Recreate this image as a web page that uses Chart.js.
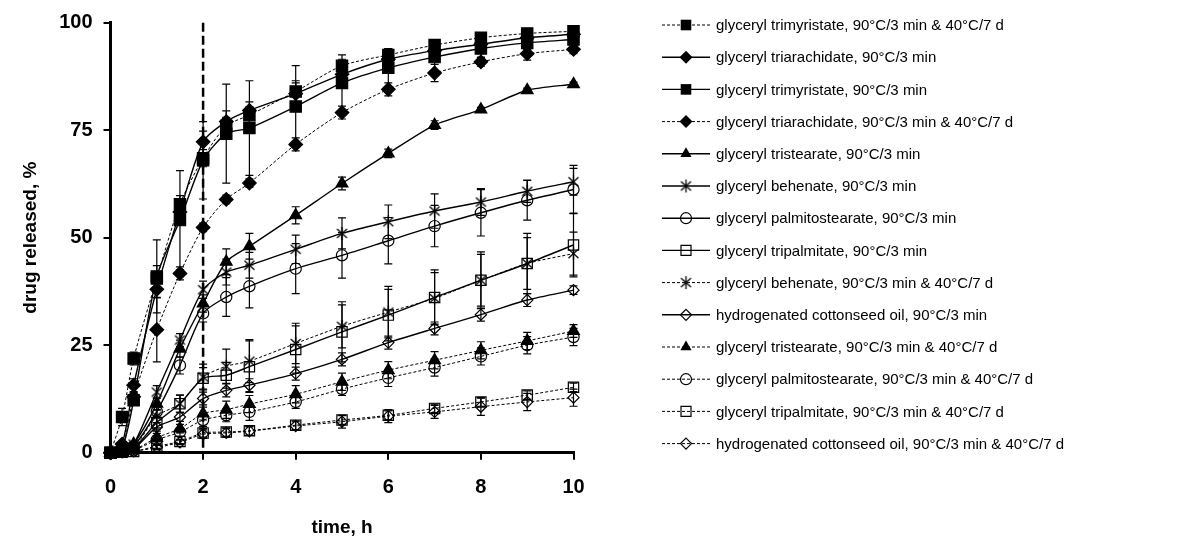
<!DOCTYPE html>
<html>
<head>
<meta charset="utf-8">
<script src="https://cdn.jsdelivr.net/npm/chart.js"></script>
<style>
  html, body { margin: 0; padding: 0; background: #fff; }
  canvas { display: block; }
</style>
</head>
<body>
<canvas id="chart" width="1195" height="542"></canvas>
<script>
// sampling times, h
const times = [0, 0.25, 0.5, 1, 1.5, 2, 2.5, 3, 4, 5, 6, 7, 8, 9, 10];
const yTicks = [0, 25, 50, 75, 100];
const xTicks = [0, 2, 4, 6, 8, 10];
const markerTime = 2;

const seriesLabels = [
  "glyceryl trimyristate, 90°C/3 min & 40°C/7 d",
  "glyceryl triarachidate, 90°C/3 min",
  "glyceryl trimyristate, 90°C/3 min",
  "glyceryl triarachidate, 90°C/3 min & 40°C/7 d",
  "glyceryl tristearate, 90°C/3 min",
  "glyceryl behenate, 90°C/3 min",
  "glyceryl palmitostearate, 90°C/3 min",
  "glyceryl tripalmitate, 90°C/3 min",
  "glyceryl behenate, 90°C/3 min & 40°C/7 d",
  "hydrogenated cottonseed oil, 90°C/3 min",
  "glyceryl tristearate, 90°C/3 min & 40°C/7 d",
  "glyceryl palmitostearate, 90°C/3 min & 40°C/7 d",
  "glyceryl tripalmitate, 90°C/3 min & 40°C/7 d",
  "hydrogenated cottonseed oil, 90°C/3 min & 40°C/7 d"
];

// drug released, % (mean)
const trimyristateAged    = [0, 8.3, 21.9, 40.5, 57.8, 68.5, 76, 78.5, 84, 90, 92.5, 94.8, 96.5, 97.5, 98];
const triarachidate       = [0, 2, 15.7, 38, 56, 72.3, 77, 79.6, 83.5, 88, 91.5, 93.5, 95, 96.5, 97.3];
const trimyristate        = [0, 1, 12.2, 41, 54.1, 68, 74.2, 75.5, 80.5, 86, 89.5, 92, 94, 95.3, 96.1];
const triarachidateAged   = [0, 1, 13, 28.6, 41.7, 52.4, 58.9, 62.7, 71.7, 79.1, 84.5, 88.3, 90.9, 92.8, 93.8];
const tristearate         = [0, 0.5, 2, 11.4, 24.2, 34.7, 44.4, 48, 55.2, 62.6, 69.6, 76.2, 79.8, 84.3, 85.7];
const behenate            = [0, 0.5, 2, 14.1, 26.2, 37.9, 42, 43.6, 47.3, 51, 53.7, 56.2, 58.3, 60.8, 63];
const palmitostearate     = [0, 0.5, 1.5, 9.6, 20.3, 32.4, 36.2, 38.7, 42.8, 45.9, 49.3, 52.7, 55.8, 58.7, 61.2];
const tripalmitate        = [0, 0.3, 1, 7, 11.4, 17.3, 18, 20, 24, 28.1, 32, 36.1, 40.1, 44, 48.3];
const behenateAged        = [0, 0.3, 1, 8.5, 11.4, 17.6, 20.1, 21.3, 25.4, 29.4, 32.7, 35.9, 40.1, 44, 46.3];
const cottonseed          = [0, 0.2, 0.8, 6, 8.3, 12.6, 14.5, 15.7, 18.4, 21.7, 25.6, 28.9, 32.1, 35.5, 37.8];
const tristearateAged     = [0, 0.2, 0.6, 3.5, 5.6, 9.1, 10, 11.3, 13.6, 16.5, 19.2, 21.5, 23.8, 26, 28.3];
const palmitostearateAged = [0, 0.2, 0.5, 3, 4.8, 7.6, 8.7, 9.5, 11.8, 14.8, 17.4, 19.8, 22.4, 25, 26.9];
const tripalmitateAged    = [0, 0.1, 0.3, 1.5, 2.6, 4.6, 4.8, 5.1, 6.4, 7.6, 8.7, 10.3, 11.8, 13.4, 15.2];
const cottonseedAged      = [0, 0.1, 0.3, 1.2, 2.4, 4.3, 4.6, 5, 6.2, 7.2, 8.5, 9.5, 10.7, 11.8, 12.8];

// standard deviations
const trimyristateAgedSd    = [0, 2, 1.5, 3, 2, 2, 2, 2, 2.5, 1.5, 1.5, 1, 1, 1, 1];
const triarachidateSd       = [0, 0.5, 1.5, 2, 2, 2.5, 2.5, 2, 2.5, 2, 1.5, 1.5, 1, 1, 1];
const trimyristateSd        = [0, 0.5, 1, 8.5, 11.5, 9, 11.5, 11, 9.5, 6.5, 4.5, 4, 2, 1.5, 1];
const triarachidateAgedSd   = [0, 0.5, 1, 7.5, 1.5, 1, 1, 1, 1.5, 1.5, 1.5, 2, 1, 1.5, 1];
const tristearateSd         = [0, 0.5, 0.5, 1.5, 2, 2, 3, 3, 2, 1.5, 1, 1, 0.5, 0.5, 0.5];
const behenateSd            = [0, 0.5, 0.5, 1.5, 1.5, 2, 3, 3, 3.3, 3.6, 3.9, 4, 3.1, 2.6, 3.1];
const palmitostearateSd     = [0, 0.5, 0.5, 1.5, 2, 2, 4.5, 5, 5.8, 5.3, 5.4, 4.8, 5.4, 4.6, 5.6];
const tripalmitateSd        = [0, 0.3, 0.5, 1.5, 2, 2.5, 3, 6, 5.5, 7, 6, 6.4, 6.6, 7, 7.4];
const behenateAgedSd        = [0, 0.3, 0.5, 1.5, 2, 3, 4, 5, 4.7, 5, 6, 6, 6, 6, 5];
const cottonseedSd          = [0, 0.2, 0.5, 1, 1, 1.5, 1.5, 1.5, 1.5, 1.5, 1.5, 1.5, 1.5, 1.5, 1];
const tristearateAgedSd     = [0, 0.2, 0.3, 1, 1, 1.5, 2, 2, 2, 2, 2, 2, 2, 2, 1.5];
const palmitostearateAgedSd = [0, 0.2, 0.3, 1, 1, 1.5, 1.5, 2, 1.5, 1.5, 2, 2, 2, 2, 2];
const tripalmitateAgedSd    = [0, 0.1, 0.3, 0.5, 0.5, 1, 1, 1, 1, 1, 1, 1, 1, 1, 1];
const cottonseedAgedSd      = [0, 0.1, 0.3, 0.5, 0.5, 1, 1, 1, 1, 1.5, 1.5, 1.5, 2, 2, 2];

const means = [trimyristateAged, triarachidate, trimyristate, triarachidateAged, tristearate,
  behenate, palmitostearate, tripalmitate, behenateAged, cottonseed, tristearateAged,
  palmitostearateAged, tripalmitateAged, cottonseedAged];
const sds = [trimyristateAgedSd, triarachidateSd, trimyristateSd, triarachidateAgedSd, tristearateSd,
  behenateSd, palmitostearateSd, tripalmitateSd, behenateAgedSd, cottonseedSd, tristearateAgedSd,
  palmitostearateAgedSd, tripalmitateAgedSd, cottonseedAgedSd];

// marker kind + dashed line per series
const looks = [
  ["square", true], ["diamond", false], ["square", false], ["diamond", true],
  ["triangle", false], ["star", false], ["circle", false], ["openSquare", false],
  ["star", true], ["openDiamond", false], ["triangle", true], ["circle", true],
  ["openSquare", true], ["openDiamond", true]
];

// asterisk marker as a little canvas
function makeStar() {
  const c = document.createElement("canvas");
  c.width = 15; c.height = 15;
  const g = c.getContext("2d");
  g.strokeStyle = "#000"; g.lineWidth = 1.3;
  g.beginPath();
  g.moveTo(7.5, 1); g.lineTo(7.5, 14);
  g.moveTo(2.5, 3); g.lineTo(12.5, 12);
  g.moveTo(12.5, 3); g.lineTo(2.5, 12);
  g.stroke();
  return c;
}
const starImg = makeStar();

function pointProps(kind) {
  switch (kind) {
    case "square":      return { pointStyle: "rect", pointRadius: 8, pointBackgroundColor: "#000" };
    case "diamond":     return { pointStyle: "rectRot", pointRadius: 6.8, pointBackgroundColor: "#000" };
    case "triangle":    return { pointStyle: "triangle", pointRadius: 6.8, pointBackgroundColor: "#000" };
    case "circle":      return { pointStyle: "circle", pointRadius: 5.6, pointBackgroundColor: "rgba(0,0,0,0)" };
    case "openSquare":  return { pointStyle: "rect", pointRadius: 7.3, pointBackgroundColor: "rgba(0,0,0,0)" };
    case "openDiamond": return { pointStyle: "rectRot", pointRadius: 5.6, pointBackgroundColor: "rgba(0,0,0,0)" };
    case "star":        return { pointStyle: starImg, pointRadius: 7, pointBackgroundColor: "#000" };
  }
}

const datasets = seriesLabels.map((label, i) => Object.assign({
  label: label,
  data: times.map((t, j) => ({ x: t, y: means[i][j] })),
  errors: sds[i],
  kind: looks[i][0],
  borderColor: "#000",
  borderWidth: looks[i][1] ? 1 : 1.4,
  borderDash: looks[i][1] ? [3, 2] : [],
  pointBorderColor: "#000",
  pointBorderWidth: 1.2,
  tension: 0.25,
  clip: false,
  fill: false
}, pointProps(looks[i][0])));

// error bars and the dashed line at 2 h, drawn under the series
const underlay = {
  id: "underlay",
  beforeDatasetsDraw(chart) {
    const { ctx, scales: { x, y } } = chart;
    ctx.save();
    ctx.strokeStyle = "#000";
    ctx.lineWidth = 2.5;
    ctx.setLineDash([9, 4]);
    const xm = x.getPixelForValue(markerTime);
    ctx.beginPath();
    ctx.moveTo(xm, y.getPixelForValue(100));
    ctx.lineTo(xm, y.getPixelForValue(0));
    ctx.stroke();

    ctx.setLineDash([]);
    ctx.lineWidth = 1.2;
    chart.data.datasets.forEach(ds => {
      ds.errors.forEach((s, j) => {
        if (!s) return;
        const px = x.getPixelForValue(ds.data[j].x);
        const top = y.getPixelForValue(ds.data[j].y + s);
        const bot = y.getPixelForValue(Math.max(ds.data[j].y - s, 0));
        ctx.beginPath();
        ctx.moveTo(px, top); ctx.lineTo(px, bot);
        ctx.moveTo(px - 4, top); ctx.lineTo(px + 4, top);
        ctx.moveTo(px - 4, bot); ctx.lineTo(px + 4, bot);
        ctx.stroke();
      });
    });
    ctx.restore();
  }
};

function drawMarker(ctx, kind, x, y) {
  ctx.save();
  ctx.strokeStyle = "#000";
  ctx.fillStyle = "#000";
  ctx.lineWidth = 1.2;
  ctx.beginPath();
  if (kind === "square") {
    ctx.rect(x - 5.3, y - 5.3, 10.6, 10.6); ctx.fill();
  } else if (kind === "openSquare") {
    ctx.rect(x - 5, y - 5, 10, 10); ctx.stroke();
  } else if (kind === "diamond" || kind === "openDiamond") {
    const r = kind === "diamond" ? 6.5 : 5.5;
    ctx.moveTo(x, y - r); ctx.lineTo(x + r, y); ctx.lineTo(x, y + r); ctx.lineTo(x - r, y); ctx.closePath();
    if (kind === "diamond") ctx.fill(); else ctx.stroke();
  } else if (kind === "triangle") {
    ctx.moveTo(x, y - 6.5); ctx.lineTo(x + 5.6, y + 3.25); ctx.lineTo(x - 5.6, y + 3.25); ctx.closePath(); ctx.fill();
  } else if (kind === "circle") {
    ctx.arc(x, y, 5.5, 0, Math.PI * 2); ctx.stroke();
  } else if (kind === "star") {
    ctx.drawImage(starImg, x - 7.5, y - 7.5);
  }
  ctx.restore();
}

// legend on the right: line + marker + label
const sideLegend = {
  id: "sideLegend",
  afterDraw(chart) {
    const ctx = chart.ctx;
    ctx.save();
    ctx.font = "15px 'Liberation Sans', Arial, sans-serif";
    ctx.textBaseline = "middle";
    ctx.fillStyle = "#000";
    chart.data.datasets.forEach((ds, i) => {
      const ly = 25 + i * 32.2;
      ctx.strokeStyle = "#000";
      ctx.lineWidth = ds.borderDash.length ? 1 : 1.4;
      ctx.setLineDash(ds.borderDash);
      ctx.beginPath();
      ctx.moveTo(662, ly); ctx.lineTo(710, ly);
      ctx.stroke();
      ctx.setLineDash([]);
      drawMarker(ctx, ds.kind, 686, ly);
      ctx.fillText(ds.label, 716, ly + 1);
    });
    ctx.restore();
  }
};

const tickFont = { family: "'Liberation Sans', Arial, sans-serif", size: 20, weight: "bold" };
const titleFont = { family: "'Liberation Sans', Arial, sans-serif", size: 19, weight: "bold" };

new Chart(document.getElementById("chart"), {
  type: "line",
  data: { datasets: datasets },
  options: {
    responsive: false,
    animation: false,
    events: [],
    layout: { padding: { left: 0, right: 621.5, top: 22.7, bottom: 0 } },
    plugins: { legend: { display: false }, tooltip: { enabled: false } },
    scales: {
      x: {
        type: "linear",
        min: 0, max: 10,
        afterBuildTicks: s => { s.ticks = xTicks.map(v => ({ value: v })); },
        afterFit: s => { s.height = 89.3; s.paddingLeft = 0; s.paddingRight = 0; },
        ticks: { color: "#000", font: tickFont, padding: 16, maxRotation: 0 },
        grid: { drawOnChartArea: false, color: "#000", lineWidth: 2, tickLength: 7 },
        border: { color: "#000", width: 3 },
        title: { display: true, text: "time, h", color: "#000", font: titleFont, padding: { top: 0, bottom: 3 } }
      },
      y: {
        min: 0, max: 100,
        afterBuildTicks: s => { s.ticks = yTicks.map(v => ({ value: v })); },
        afterFit: s => { s.width = 110.5; s.paddingTop = 0; s.paddingBottom = 0; },
        ticks: { color: "#000", font: tickFont, padding: 11 },
        grid: { drawOnChartArea: false, color: "#000", lineWidth: 2, tickLength: 7 },
        border: { color: "#000", width: 3 },
        title: { display: true, text: "drug released, %", color: "#000", font: titleFont, padding: { top: 19, bottom: 0 } }
      }
    }
  },
  plugins: [underlay, sideLegend]
});
</script>
</body>
</html>
